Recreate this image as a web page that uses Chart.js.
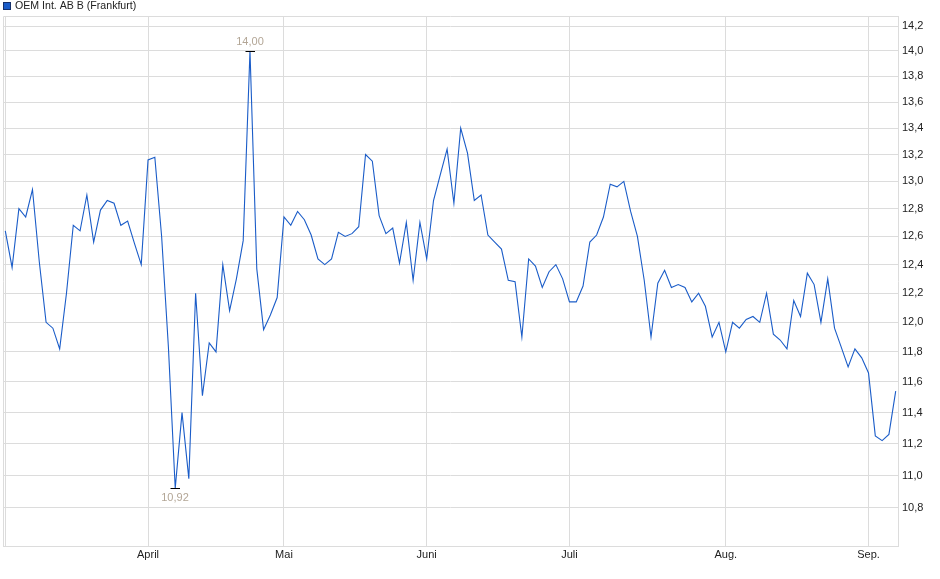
<!DOCTYPE html>
<html>
<head>
<meta charset="utf-8">
<script src="https://cdn.jsdelivr.net/npm/chart.js@4/dist/chart.umd.min.js"></script>
<style>
  html, body { margin: 0; padding: 0; background: #ffffff; }
  #wrap { width: 940px; height: 579px; }
</style>
</head>
<body>
<div id="wrap"><canvas id="c" width="940" height="579"></canvas></div>
<script>
// ---- data (trading days, 3 Mar – 5 Sep) ----
const seriesName = 'OEM Int. AB B (Frankfurt)';
const prices = [
  12.64, 12.38, 12.80, 12.74, 12.94, 12.42, 12.00, 11.96, 11.82, 12.20,
  12.68, 12.64, 12.90, 12.56, 12.79, 12.86, 12.84, 12.68, 12.71, 12.55,
  12.40, 13.16, 13.18, 12.60, 11.83, 10.92, 11.40, 10.98, 12.20, 11.51,
  11.86, 11.80, 12.40, 12.08, 12.30, 12.57, 14.00, 12.37, 11.95, 12.05,
  12.17, 12.74, 12.68, 12.78, 12.72, 12.61, 12.44, 12.40, 12.44, 12.63,
  12.60, 12.62, 12.67, 13.20, 13.15, 12.75, 12.62, 12.66, 12.41, 12.70,
  12.29, 12.70, 12.44, 12.86, 13.05, 13.24, 12.84, 13.40, 13.21, 12.86,
  12.90, 12.61, 12.56, 12.51, 12.29, 12.28, 11.90, 12.44, 12.39, 12.24,
  12.35, 12.40, 12.30, 12.14, 12.14, 12.25, 12.56, 12.61, 12.74, 12.98,
  12.96, 13.00, 12.78, 12.60, 12.29, 11.90, 12.27, 12.36, 12.24, 12.26,
  12.24, 12.14, 12.20, 12.11, 11.90, 12.00, 11.80, 12.00, 11.96, 12.02,
  12.04, 12.00, 12.20, 11.92, 11.88, 11.82, 12.15, 12.04, 12.34, 12.26,
  12.00, 12.30, 11.96, 11.83, 11.70, 11.82, 11.76, 11.66, 11.25, 11.22,
  11.26, 11.54
];
const monthStartIdx = [0, 21, 41, 62, 83, 106, 127];
const monthLabels   = ['', 'April', 'Mai', 'Juni', 'Juli', 'Aug.', 'Sep.'];
const yTicks = [10.8, 11.0, 11.2, 11.4, 11.6, 11.8, 12.0, 12.2, 12.4, 12.6, 12.8, 13.0, 13.2, 13.4, 13.6, 13.8, 14.0, 14.2];

// ---- styles ----
const lineColor = '#1a5cc8';
const gridColor = '#dcdcdc';
const textColor = '#222222';
const markColor = '#b3a696';
const FONT = 'Liberation Sans, Arial, sans-serif';

const points = prices.map((v, i) => ({ x: i, y: v }));
const fmt = v => v.toFixed(2).replace('.', ',');

const extras = {
  id: 'extras',
  beforeDatasetsDraw(chart) {
    const { ctx, chartArea: a } = chart;
    ctx.save();
    ctx.strokeStyle = gridColor;
    ctx.lineWidth = 1;
    ctx.beginPath();
    ctx.moveTo(a.left + 0.5, a.bottom);
    ctx.lineTo(a.left + 0.5, a.top + 0.5);
    ctx.lineTo(a.right, a.top + 0.5);
    ctx.stroke();
    ctx.restore();
  },
  afterDatasetsDraw(chart) {
    const { ctx } = chart;
    const xs = chart.scales.x, ys = chart.scales.y;
    const hi = Math.max(...prices), lo = Math.min(...prices);
    const hiI = prices.indexOf(hi), loI = prices.indexOf(lo);
    ctx.save();
    ctx.font = '11px ' + FONT;
    ctx.textAlign = 'center';
    [[hiI, hi, -1], [loI, lo, 1]].forEach(([i, v, dir]) => {
      const px = Math.round(xs.getPixelForValue(i));
      const py = Math.round(ys.getPixelForValue(v)) + 0.5;
      ctx.strokeStyle = '#000000';
      ctx.lineWidth = 1;
      ctx.beginPath();
      ctx.moveTo(px - 4.5, py);
      ctx.lineTo(px + 5, py);
      ctx.stroke();
      ctx.fillStyle = markColor;
      ctx.textBaseline = 'middle';
      ctx.fillText(fmt(v), px, py + dir * 9.5);
    });
    ctx.restore();
  },
  afterDraw(chart) {
    const { ctx } = chart;
    ctx.save();
    ctx.fillStyle = lineColor;
    ctx.fillRect(3, 2, 8, 8);
    ctx.strokeStyle = '#16306a';
    ctx.lineWidth = 1;
    ctx.strokeRect(3.5, 2.5, 7, 7);
    ctx.fillStyle = textColor;
    ctx.font = '10.6px ' + FONT;
    ctx.textAlign = 'left';
    ctx.textBaseline = 'middle';
    ctx.fillText(seriesName, 15, 6.5);
    ctx.restore();
  }
};

new Chart(document.getElementById('c'), {
  type: 'line',
  data: {
    datasets: [{
      label: seriesName,
      data: points,
      borderColor: lineColor,
      borderWidth: 1.1,
      pointRadius: 0,
      pointHoverRadius: 0,
      tension: 0,
      fill: false
    }]
  },
  options: {
    responsive: false,
    animation: false,
    devicePixelRatio: 1,
    layout: { padding: { top: 16, left: 3, right: 0, bottom: 0 } },
    plugins: { legend: { display: false }, tooltip: { enabled: false } },
    scales: {
      x: {
        type: 'linear',
        min: -0.338,
        max: 131.338,
        afterBuildTicks: s => { s.ticks = monthStartIdx.map(v => ({ value: v })); },
        afterFit: s => { s.height = 33; },
        grid: { color: gridColor, drawTicks: false },
        border: { color: gridColor },
        ticks: {
          autoSkip: false,
          maxRotation: 0,
          padding: 2,
          color: textColor,
          font: { size: 11, family: FONT },
          callback: v => { const k = monthStartIdx.indexOf(v); return k >= 0 ? monthLabels[k] : ''; }
        }
      },
      y: {
        type: 'logarithmic',
        position: 'right',
        min: 10.568,
        max: 14.281,
        afterBuildTicks: s => { s.ticks = yTicks.map(v => ({ value: v })); },
        afterFit: s => { s.width = 42; },
        grid: { color: gridColor, drawTicks: false },
        border: { color: gridColor },
        ticks: {
          padding: 4,
          color: textColor,
          font: { size: 11, family: FONT },
          callback: v => v.toFixed(1).replace('.', ',')
        }
      }
    }
  },
  plugins: [extras]
});
</script>
</body>
</html>
